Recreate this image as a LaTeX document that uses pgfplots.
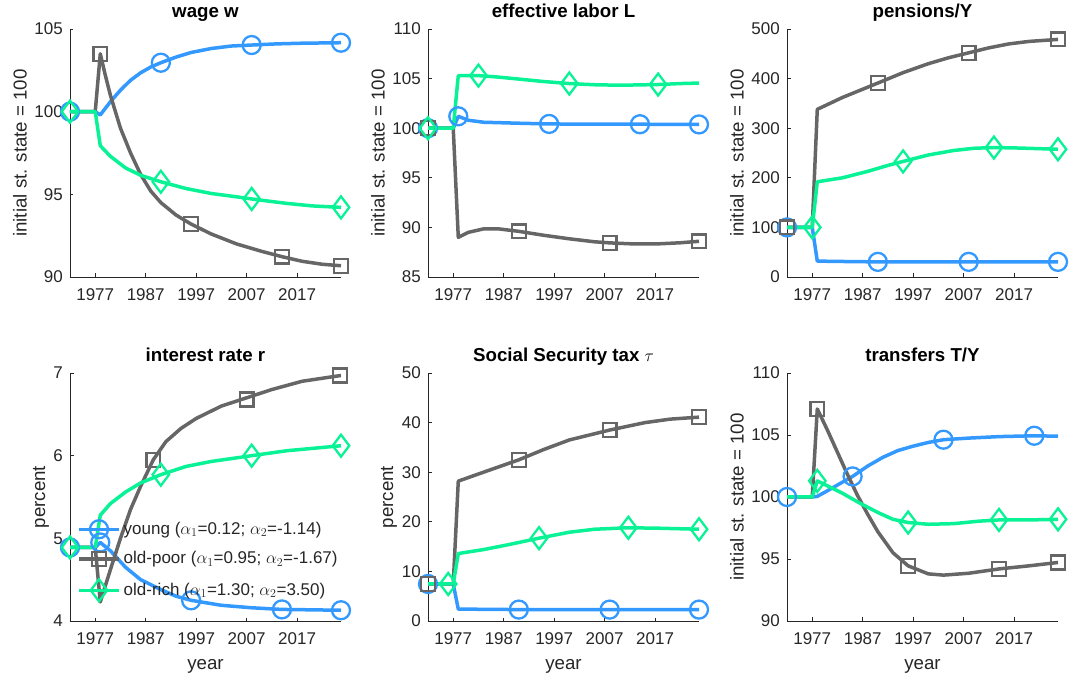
\documentclass[border=0pt]{standalone}
\usepackage{fontspec}
\setmainfont{Liberation Sans}
\usepackage{pgfplots}
\pgfplotsset{compat=1.18}
\definecolor{cblue}{RGB}{51,153,255}
\definecolor{cgray}{RGB}{102,102,102}
\definecolor{cgreen}{RGB}{10,242,150}
\definecolor{axc}{RGB}{38,38,38}
\pgfplotsset{
  panel/.style={
    scale only axis, width=271pt, height=248pt,
    xmin=1972, xmax=2025.7,
    xtick={1977,1987,1997,2007,2017},
    axis x line*=bottom, axis y line*=left,
    axis line style={axc, line width=0.8pt},
    tick align=inside, major tick length=3.5pt,
    tick style={axc, line width=0.8pt},
    every tick label/.append style={font=\fontsize{17}{20}\selectfont, text=axc},
    /pgf/number format/assume math mode=true,
    /pgf/number format/1000 sep={},
    xticklabel style={inner sep=0pt, anchor=north, yshift=-11pt},
    yticklabel style={inner sep=0pt, anchor=east, xshift=-7pt},
    title style={font=\bfseries\fontsize{18.7}{22}\selectfont, at={(axis description cs:0.5,1)}, anchor=base, yshift=5.5pt, inner sep=0pt},
    label style={font=\fontsize{18.7}{22}\selectfont, text=axc},
    ylabel style={anchor=center, inner sep=0pt},
    xlabel style={at={(axis description cs:0.5,0)}, anchor=base, yshift=-48pt, inner sep=0pt},
    clip=false,
  },
  LB/.style={cblue, line width=3.5pt, line join=round, mark=none, forget plot},
  LG/.style={cgray, line width=3.5pt, line join=round, mark=none, forget plot},
  LN/.style={cgreen, line width=3.5pt, line join=round, mark=none, forget plot},
  MB/.style={cblue, only marks, mark=o, mark size=9pt, mark options={line width=2.3pt, solid}, forget plot},
  MG/.style={cgray, only marks, mark=square, mark size=6.9pt, mark options={line width=2.3pt, solid}, forget plot},
  MN/.style={cgreen, only marks, mark=diamond, mark size=11pt, mark options={line width=2.3pt, solid}, forget plot},
}
\begin{document}
\begin{tikzpicture}
\useasboundingbox (0,0) rectangle (1070pt,677pt);

% ---------------- wage w
\begin{axis}[panel, at={(70pt,400pt)}, anchor=south west,
  ymin=90, ymax=105, ytick={90,95,100,105},
  title={wage w}, ylabel={initial st. state = 100},
  ylabel style={at={(axis description cs:-0.185,0.5)}}]
\addplot[LB] coordinates {(1972,100)(1977,100)(1978,99.8)(1980,100.6)(1982,101.3)(1984,101.9)(1986,102.35)(1988,102.7)(1990,102.96)(1993,103.3)(1996,103.58)(2000,103.82)(2004,103.97)(2008,104.03)(2013,104.1)(2018,104.14)(2025.7,104.17)};
\addplot[MB] coordinates {(1972,100)(1990,102.96)(2008,104.03)(2025.7,104.17)};
\addplot[LG] coordinates {(1972,100)(1977,100)(1978,103.5)(1979,102.2)(1980,101.0)(1982,99.0)(1984,97.5)(1986,96.2)(1988,95.2)(1990,94.5)(1993,93.75)(1996,93.2)(2000,92.6)(2005,92.0)(2010,91.55)(2014,91.23)(2018,90.95)(2022,90.77)(2025.7,90.68)};
\addplot[MG] coordinates {(1978,103.5)(1996,93.2)(2014,91.23)(2025.7,90.68)};
\addplot[LN] coordinates {(1972,100)(1977,100)(1978,97.94)(1980,97.3)(1983,96.6)(1986,96.15)(1990,95.76)(1995,95.35)(2000,95.05)(2005,94.85)(2008,94.72)(2010,94.64)(2015,94.45)(2020,94.3)(2025.7,94.21)};
\addplot[MN] coordinates {(1972,100)(1990,95.76)(2008,94.72)(2025.7,94.21)};
\end{axis}

% ---------------- effective labor L
\begin{axis}[panel, at={(428pt,400pt)}, anchor=south west,
  ymin=85, ymax=110, ytick={85,90,95,100,105,110},
  title={effective labor L}, ylabel={initial st. state = 100},
  ylabel style={at={(axis description cs:-0.185,0.5)}}]
\addplot[LB] coordinates {(1972,100)(1977,100)(1978,101.2)(1980,100.8)(1983,100.6)(1990,100.5)(1996,100.43)(2005,100.4)(2014,100.4)(2025.7,100.38)};
\addplot[MB] coordinates {(1972,100)(1978,101.2)(1996,100.43)(2014,100.4)(2025.7,100.38)};
\addplot[LG] coordinates {(1972,100)(1977,100)(1978,89.0)(1980,89.5)(1983,89.85)(1986,89.85)(1990,89.6)(1995,89.2)(2000,88.85)(2005,88.55)(2008,88.44)(2012,88.35)(2018,88.35)(2022,88.45)(2025.7,88.6)};
\addplot[MG] coordinates {(1972,100)(1990,89.6)(2008,88.44)(2025.7,88.6)};
\addplot[LN] coordinates {(1972,100)(1977,100)(1978,105.3)(1982,105.3)(1986,105.15)(1990,104.95)(1995,104.7)(2000,104.5)(2005,104.38)(2010,104.33)(2017.6,104.4)(2022,104.5)(2025.7,104.55)};
\addplot[MN] coordinates {(1972,100)(1982,105.3)(2000,104.5)(2017.6,104.4)};
\end{axis}

% ---------------- pensions/Y
\begin{axis}[panel, at={(787pt,400pt)}, anchor=south west,
  ymin=0, ymax=500, ytick={0,100,200,300,400,500},
  title={pensions/Y}, ylabel={initial st. state = 100},
  ylabel style={at={(axis description cs:-0.185,0.5)}}]
\addplot[LB] coordinates {(1972,100)(1977,100)(1978,32)(1985,31)(1990,30.5)(2000,30.5)(2008,30.5)(2025.7,30.5)};
\addplot[MB] coordinates {(1972,100)(1990,30.5)(2008,30.5)(2025.7,30.5)};
\addplot[LG] coordinates {(1972,100)(1977,100)(1978,338)(1983,362)(1990,391)(1995,412)(2000,430)(2004,442)(2008,452)(2012,462)(2016,470)(2020,475)(2025.7,479)};
\addplot[MG] coordinates {(1972,100)(1990,391)(2008,452)(2025.7,479)};
\addplot[LN] coordinates {(1972,100)(1977,100)(1978,192)(1983,200)(1988,213)(1992,225)(1995,233)(2000,246)(2005,255)(2009,259.5)(2013,261)(2018,260)(2025.7,257.5)};
\addplot[MN] coordinates {(1977,100)(1995,233)(2013,261)(2025.7,257.5)};
\end{axis}

% ---------------- interest rate r
\begin{axis}[panel, at={(70pt,56pt)}, anchor=south west,
  ymin=4, ymax=7, ytick={4,5,6,7},
  title={interest rate r}, ylabel={percent}, xlabel={year},
  ylabel style={at={(axis description cs:-0.107,0.5)}},
  legend style={at={(axis description cs:0.026,0.407)}, anchor=north west, draw=none, fill=none, inner sep=0pt, row sep=11.5pt, column sep=3pt, font=\fontsize{17}{20}\selectfont, nodes={inner sep=0pt, text height=14pt, text depth=4pt, text=axc}},
  legend cell align=left,
  legend image code/.code={\draw[#1, mark repeat=2, mark phase=2] plot coordinates {(0pt,0pt)(20pt,0pt)(40pt,0pt)};}]
\addplot[LB] coordinates {(1972,4.89)(1977,4.89)(1978,4.95)(1980,4.85)(1983,4.65)(1986,4.5)(1990,4.38)(1993,4.3)(1996,4.25)(2002,4.19)(2008,4.16)(2014,4.14)(2025.7,4.13)};
\addplot[MB] coordinates {(1972,4.89)(1978,4.95)(1996,4.25)(2014,4.14)(2025.7,4.13)};
\addplot[LG] coordinates {(1972,4.89)(1977,4.89)(1978,4.23)(1980,4.62)(1982,5.0)(1984,5.35)(1986,5.63)(1988.5,5.95)(1991,6.17)(1994,6.33)(1997,6.45)(2002,6.6)(2007,6.7)(2012,6.8)(2018,6.9)(2025.7,6.97)};
\addplot[MG] coordinates {(1988.5,5.95)(2007,6.68)(2025.5,6.97)};
\addplot[LN] coordinates {(1972,4.89)(1977,4.89)(1978,5.28)(1980,5.42)(1983,5.56)(1986,5.67)(1990,5.77)(1995,5.87)(2000,5.93)(2008,6.0)(2015,6.06)(2025.7,6.12)};
\addplot[MN] coordinates {(1972,4.89)(1990,5.77)(2008,6.0)(2025.7,6.12)};
\addlegendimage{cblue, line width=3.5pt, mark=o, mark size=9pt, mark options={line width=2.3pt, solid}}
\addlegendimage{cgray, line width=3.5pt, mark=square, mark size=6.9pt, mark options={line width=2.3pt, solid}}
\addlegendimage{cgreen, line width=3.5pt, mark=diamond, mark size=11pt, mark options={line width=2.3pt, solid}}
\legend{young ($\alpha_1$=0.12; $\alpha_2$=-1.14), old-poor ($\alpha_1$=0.95; $\alpha_2$=-1.67), old-rich ($\alpha_1$=1.30; $\alpha_2$=3.50)}
\end{axis}

% ---------------- Social Security tax
\begin{axis}[panel, at={(428pt,56pt)}, anchor=south west,
  ymin=0, ymax=50, ytick={0,10,20,30,40,50},
  title={Social Security tax $\tau$}, ylabel={percent}, xlabel={year},
  ylabel style={at={(axis description cs:-0.144,0.5)}}]
\addplot[LB] coordinates {(1972,7.47)(1977,7.47)(1978,2.4)(1990,2.3)(2025.7,2.3)};
\addplot[MB] coordinates {(1972,7.47)(1990,2.3)(2008,2.3)(2025.7,2.3)};
\addplot[LG] coordinates {(1972,7.47)(1977,7.47)(1978,28.2)(1983,30.0)(1990,32.5)(1995,34.6)(2000,36.5)(2008,38.5)(2015,40.0)(2020,40.7)(2025.7,41.1)};
\addplot[MG] coordinates {(1972,7.47)(1990,32.5)(2008,38.5)(2025.7,41.1)};
\addplot[LN] coordinates {(1972,7.47)(1977,7.47)(1978,13.6)(1983,14.4)(1988,15.4)(1994,16.7)(2000,17.9)(2005,18.5)(2011.7,18.8)(2018,18.7)(2025.7,18.5)};
\addplot[MN] coordinates {(1976,7.47)(1994,16.7)(2011.7,18.8)(2025.7,18.5)};
\end{axis}

% ---------------- transfers T/Y
\begin{axis}[panel, at={(787pt,56pt)}, anchor=south west,
  ymin=90, ymax=110, ytick={90,95,100,105,110},
  title={transfers T/Y}, ylabel={initial st. state = 100}, xlabel={year},
  ylabel style={at={(axis description cs:-0.185,0.5)}}]
\addplot[LB] coordinates {(1972,100)(1977,100)(1978,100.05)(1980,100.5)(1983,101.2)(1985,101.66)(1988,102.5)(1991,103.2)(1994,103.75)(1997,104.1)(2000,104.4)(2003,104.62)(2008,104.75)(2014,104.87)(2021,104.94)(2025.7,104.9)};
\addplot[MB] coordinates {(1972,100)(1985,101.66)(2003,104.62)(2021,104.94)};
\addplot[LG] coordinates {(1972,100)(1977,100)(1978,107.1)(1980,105.4)(1982,103.6)(1984,101.8)(1986,100.1)(1988,98.6)(1990,97.2)(1993,95.5)(1996,94.45)(2000,93.8)(2003,93.7)(2008,93.85)(2014,94.2)(2020,94.45)(2025.7,94.72)};
\addplot[MG] coordinates {(1978,107.1)(1996,94.45)(2014,94.2)(2025.7,94.72)};
\addplot[LN] coordinates {(1972,100)(1977,100)(1978,101.3)(1980,100.9)(1983,100.3)(1986,99.6)(1990,98.75)(1993,98.2)(1996,97.94)(2000,97.8)(2005,97.85)(2010,98.05)(2014,98.15)(2020,98.15)(2025.7,98.2)};
\addplot[MN] coordinates {(1978,101.3)(1996,97.94)(2014,98.15)(2025.7,98.2)};
\end{axis}
\end{tikzpicture}
\end{document}
